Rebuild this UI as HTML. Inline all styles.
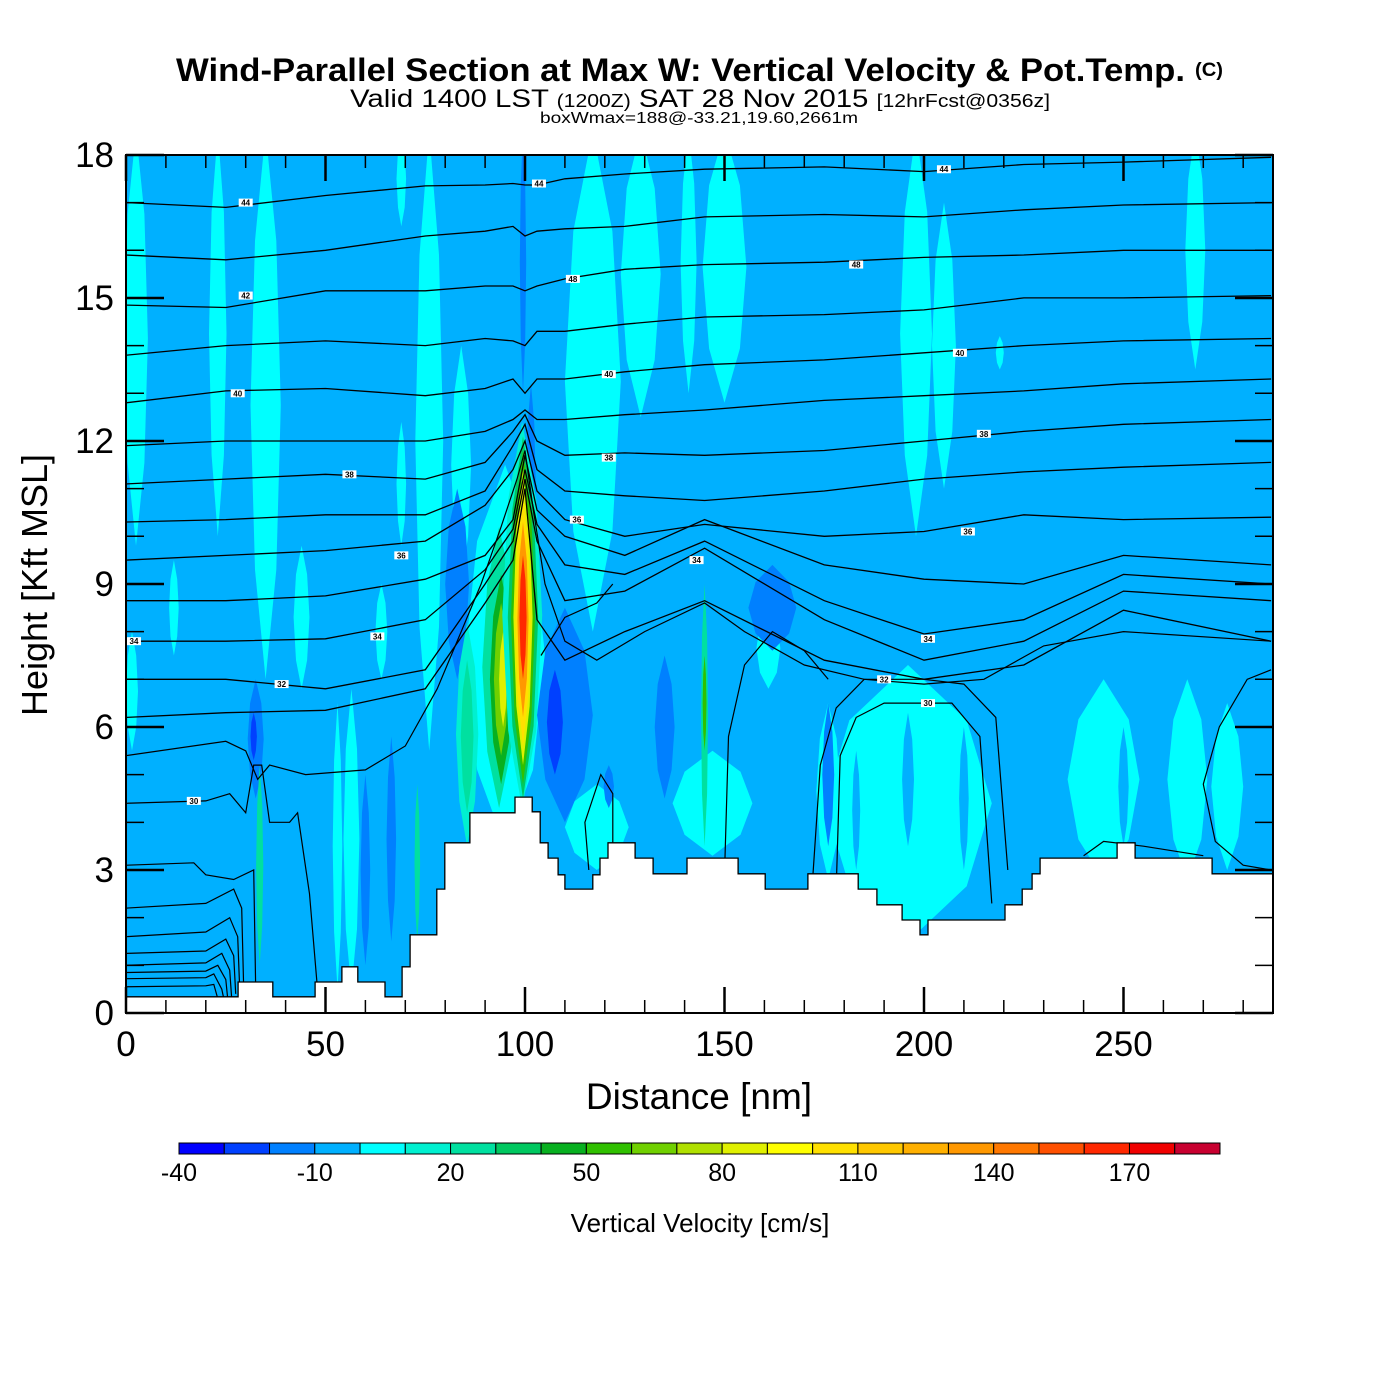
<!DOCTYPE html>
<html><head><meta charset="utf-8"><style>
html,body{margin:0;padding:0;background:#fff;width:1400px;height:1400px;overflow:hidden}
svg text{font-family:"Liberation Sans",Arial,sans-serif}
</style></head><body>
<svg id="chart" width="1400" height="1400" viewBox="0 0 1400 1400" xmlns="http://www.w3.org/2000/svg">
<defs><clipPath id="plotclip"><rect x="126" y="155" width="1147" height="858"/></clipPath></defs>
<text x="176" y="81" font-size="32" font-weight="bold" textLength="1009" lengthAdjust="spacingAndGlyphs">Wind-Parallel Section at Max W: Vertical Velocity &amp; Pot.Temp.</text>
<text x="1195" y="76" font-size="19" font-weight="bold" textLength="28" lengthAdjust="spacingAndGlyphs">(C)</text>
<text x="350" y="107" font-size="25" textLength="700" lengthAdjust="spacingAndGlyphs">Valid 1400 LST <tspan font-size="18">(1200Z)</tspan> SAT 28 Nov 2015 <tspan font-size="18">[12hrFcst@0356z]</tspan></text>
<text x="540" y="123" font-size="16" textLength="318" lengthAdjust="spacingAndGlyphs">boxWmax=188@-33.21,19.60,2661m</text>
<g id="plot" clip-path="url(#plotclip)"></g>
<g id="axes"></g>
<g id="cbar"></g>
<text x="699" y="1109" font-size="37" text-anchor="middle">Distance [nm]</text>
<text x="0" y="0" font-size="36" text-anchor="middle" transform="translate(47,585) rotate(-90)">Height [Kft MSL]</text>
<text x="700" y="1232" font-size="26" text-anchor="middle">Vertical Velocity [cm/s]</text>
</svg>
<script>
const levelColors=['#0000ff','#0040ff','#0080ff','#00b0ff','#00ffff','#00f0d0','#00e0a0','#00c860','#08b020','#30c000','#70d000','#b0e000','#e0f000','#ffff00','#ffe000','#ffc800','#ffb000','#ff9800','#ff7800','#ff5000','#ff2800','#f00000','#c80030'];
const cbarTicks=[-40,-10,20,50,80,110,140,170];
const xTicks=[0,50,100,150,200,250];
const yTicks=[0,3,6,9,12,15,18];
// w features: [centerNm, lowKft, highKft, halfWidthNm, levelIndex]
const wCells=[
[2.5,9.8,18.5,3,4],[1.5,5.5,8.0,1.5,4],[12,7.5,9.5,1.2,4],[23,10,18.5,2.2,4],[35,7,18.5,3.8,4],[44,6.8,9.8,2,4],
[53,0.5,6.5,1.2,4],[56.5,0.5,6.8,2,4],[64,7,9,1.5,4],[69,16.5,18.5,1.2,4],[69,9.8,12.4,1.2,4],[76,5.5,18.5,3.5,4],
[84,9,14,2.5,4],[117,8,18.5,7,4],[129,12.5,18.5,5,4],[141,13,18.5,2,4],[150,12.8,18.5,5.5,4],[161,6.8,8.5,3,4],
[196,1.5,7.3,21,4],[198,10,18.5,4,4],[205,11,17,3,4],[176,2.8,6.5,3,4],[219,13.5,14.2,1,4],[245,2.8,7,9,4],[266,2.8,7,5,4],
[276,3,6.5,4,4],[268,13.5,18.5,2.5,4],[147,3.3,5.5,10,4],[118,3.0,4.8,8,4],[95,3.5,11.5,10,4],
[196,3.5,6.3,1.5,3],[210,3,6,1.2,3],[183,3,5.5,1,3],[250,3.5,6,1.3,3],
[110,4.0,8.5,7,2],[107.5,5.0,7.2,2,1],[32.5,4.5,7.0,2,2],[32,5.3,6.3,0.8,1],[162,7.6,9.4,6,2],[135,4.5,7.5,2.5,2],
[176,3.5,6.5,1.5,2],[66.5,1.5,5.8,1.2,2],[60,1,5,1.2,2],[83,7,11,3,2],[101.5,9,13.2,1.2,2],[99.5,13,18.5,0.8,2],[121,4.3,5.2,1.3,2],
[33.5,1.0,5.2,0.9,6],[145,3.5,9,0.9,6],[145,5.5,7.5,0.5,9],[73,1.5,4.8,0.7,6],[85.5,3.5,8.2,2.8,5],[85.5,4.2,7.4,1.6,6],
[93.5,4.3,10.2,4.2,6],[94,4.8,9.2,2.8,8],[94,5.4,8.6,1.8,10],[94.5,6.0,8.0,1.0,12],
[99.3,4.3,12.4,5,5],[99.5,4.5,12.1,3.8,7],[99.5,4.8,11.8,3.0,9],[99.5,5.2,11.4,2.4,12],[99.5,5.6,10.9,1.9,14],
[99.5,6.2,10.3,1.4,17],[99.5,7.0,9.6,0.9,20]];
const terrainEdges=[0,28.1,36.8,47.4,54.1,58.1,64.9,69.2,71.2,77.9,79.9,86.2,97.5,101.8,103.8,105.8,108.3,110,117.0,118.8,120.8,127.6,132.1,140.6,153.4,160.2,170.9,183.5,188.2,194.5,199,201,220.3,224.6,227.1,229.1,248.4,252.9,272.2,288];
const terrainHeights=[0.34,0.65,0.34,0.65,0.97,0.65,0.34,0.97,1.64,2.6,3.57,4.2,4.53,4.22,3.57,3.25,2.9,2.6,2.9,3.25,3.57,3.25,2.92,3.25,2.92,2.6,2.92,2.6,2.27,1.95,1.64,1.95,2.27,2.6,2.92,3.25,3.57,3.25,2.92];
const contourX=[0,25,50,75,90,97,100,103,110,125,145,175,200,225,250,287];
const theta1=[17.0,16.9,17.15,17.35,17.37,17.4,17.37,17.37,17.5,17.6,17.7,17.75,17.65,17.8,17.85,17.95];
const theta2=[15.9,15.8,16.0,16.3,16.4,16.5,16.3,16.4,16.45,16.5,16.7,16.75,16.7,16.85,16.95,17.0];
const theta3=[14.85,14.8,15.15,15.15,15.25,15.25,15.15,15.25,15.4,15.6,15.7,15.75,15.85,15.9,16.0,16.0];
const theta4=[13.8,14.0,14.1,14.0,14.15,14.1,14.0,14.3,14.3,14.45,14.6,14.65,14.75,15.0,15.0,15.05];
const theta5=[12.8,13.05,13.1,12.95,13.1,13.3,13.0,13.3,13.3,13.45,13.6,13.7,13.85,14.0,14.1,14.15];
const theta6=[11.9,12.0,12.0,12.0,12.2,12.45,12.65,12.45,12.45,12.55,12.65,12.85,12.95,13.05,13.2,13.3];
const theta7=[11.1,11.2,11.3,11.2,11.55,12.2,12.55,12.0,11.7,11.75,11.7,11.8,12.0,12.2,12.35,12.45];
const theta8=[10.3,10.35,10.45,10.45,10.95,11.9,12.35,11.4,10.95,10.85,10.75,10.95,11.2,11.35,11.45,11.55];
const theta9=[9.5,9.6,9.7,9.9,10.65,11.4,12.0,10.95,10.35,10.0,10.25,10.0,10.1,10.45,10.35,10.4];
const theta10=[8.65,8.65,8.75,9.1,9.6,10.35,11.7,10.55,10.0,9.6,10.35,9.4,9.1,9.0,9.6,9.4];
const theta11=[7.8,7.8,7.85,8.25,9.3,10.15,11.4,10.25,9.4,9.2,9.9,8.65,7.95,8.25,9.2,9.0];
const theta12=[7.0,7.0,6.8,7.2,9.0,9.9,11.2,9.9,8.65,8.85,9.75,8.25,7.4,7.8,8.85,8.65];
const theta13=[6.2,6.3,6.35,6.8,8.6,9.5,11.0,8.25,7.4,8.0,8.65,7.4,7.0,7.3,8.45,7.8];
const thetaLow=[
[[0,5.4],[25,5.7],[30,5.5],[33,4.9],[36,5.2],[45,5.0],[60,5.1],[70,5.6],[78,6.8],[84,8.0],[89,9.0],[94,10.2],[98,11.2],[100,11.8],[102,10.6],[105,9.0],[110,7.8],[118,7.4],[130,8.0],[145,8.6],[155,8.0],[170,7.3],[185,7.0],[200,6.9],[215,7.0],[230,7.7],[250,8.0],[287,7.8]],
[[0,4.4],[20,4.45],[26,4.6],[30,4.2],[32,5.2],[34,5.2],[36,4.0],[41,4.0],[43,4.2],[46,2.5],[48,0.5]],
[[0,3.1],[17,3.15],[20,2.9],[27,2.8],[32,3.0],[32.5,0.5]],
[[0,2.2],[20,2.3],[27,2.6],[29,2.2],[29.5,0.5]],
[[0,1.6],[20,1.7],[26,2.0],[28,1.6],[28.5,0.5]],
[[0,1.25],[20,1.3],[25,1.55],[27,1.2],[27.5,0.4]],
[[0,1.0],[20,1.05],[24,1.25],[26,0.9],[26.5,0.3]],
[[0,0.85],[20,0.88],[23,1.0],[25,0.7],[25.5,0.3]],
[[0,0.72],[20,0.74],[22,0.82],[24,0.5],[24.5,0.3]],
[[0,0.55],[20,0.57],[22,0.6],[23,0.3]],
[[172,2.7],[174,5.2],[178,6.4],[185,7.0],[200,7.0],[210,6.9],[218,6.2],[221,3.0]],
[[178,2.6],[179,5.4],[183,6.2],[190,6.5],[207,6.5],[214,5.8],[217,2.3]],
[[150,2.9],[151,5.8],[155,7.3],[162,8.0],[170,7.6],[176,7.0]],
[[287,7.2],[281,7.0],[274,6.0],[270,4.8],[273,3.6],[280,3.1],[287,3.0]],
[[116,3.0],[115,4.0],[119,5.0],[122,4.6],[122,3.4]],
[[104,7.5],[110,8.3],[118,8.6],[122,9.0]],
[[240,3.3],[245,3.6],[255,3.5],[270,3.3]]];
const contourLabels=[[30,17.0,'44'],[103.5,17.4,'44'],[205,17.7,'44'],[112,15.4,'48'],[183,15.7,'48'],[30,15.05,'42'],[28,13.0,'40'],[121,13.4,'40'],[209,13.85,'40'],[56,11.3,'38'],[121,11.65,'38'],[215,12.15,'38'],[69,9.6,'36'],[113,10.35,'36'],[211,10.1,'36'],[2,7.8,'34'],[63,7.9,'34'],[143,9.5,'34'],[201,7.85,'34'],[39,6.9,'32'],[190,7.0,'32'],[17,4.45,'30'],[201,6.5,'30']];

const NS='http://www.w3.org/2000/svg';
const X=nm=>126+nm*3.99;
const Y=k=>1013-k*47.67;
function mk(tag,attrs,parent){const e=document.createElementNS(NS,tag);for(const k in attrs)e.setAttribute(k,attrs[k]);parent.appendChild(e);return e;}
const plot=document.getElementById('plot');
const bg=mk('rect',{x:126,y:155,width:1147,height:858,fill:levelColors[3]},plot);


wCells.forEach(c=>{
  const cx=X(c[0]),top=Y(c[2]),bot=Y(c[1]),hw=c[3]*3.99,cy=(top+bot)/2;
  const pts=[[cx,top],[cx+hw*0.7,top+(bot-top)*0.2],[cx+hw,cy],[cx+hw*0.7,bot-(bot-top)*0.2],[cx,bot],[cx-hw*0.7,bot-(bot-top)*0.2],[cx-hw,cy],[cx-hw*0.7,top+(bot-top)*0.2]];
  const p=mk('polygon',{points:pts.map(q=>q[0].toFixed(1)+','+q[1].toFixed(1)).join(' '),fill:levelColors[c[4]]},plot);
  
  
});
const thetaGrid=[theta1,theta2,theta3,theta4,theta5,theta6,theta7,theta8,theta9,theta10,theta11,theta12,theta13];
thetaGrid.forEach(arr=>{
  const l=mk('polyline',{points:arr.map((k,i)=>X(contourX[i]).toFixed(1)+','+Y(k).toFixed(1)).join(' '),fill:'none',stroke:'#000','stroke-width':1.3},plot);
  
  
});
thetaLow.forEach(arr=>{
  const l=mk('polyline',{points:arr.map(q=>X(q[0]).toFixed(1)+','+Y(q[1]).toFixed(1)).join(' '),fill:'none',stroke:'#000','stroke-width':1.2},plot);
  
  
});
contourLabels.forEach(c=>{
  const x=X(c[0]),y=Y(c[1]);
  const g=mk('g',{},plot);
  
  
  mk('rect',{x:x-7,y:y-4,width:14,height:8,fill:'#fff'},g);
  const t=mk('text',{x:x,y:y+3,'font-size':8,'text-anchor':'middle','font-weight':'bold'},g);
  t.textContent=c[2];
});
let tp='';
terrainHeights.forEach((h,i)=>{tp+=(i===0?'M':'L')+X(terrainEdges[i]).toFixed(1)+','+Y(h).toFixed(1)+' L'+X(terrainEdges[i+1]).toFixed(1)+','+Y(h).toFixed(1)+' ';});
tp+='L1273,1013 L126,1013 Z';
const terr=mk('path',{d:tp,fill:'#fff',stroke:'#000','stroke-width':1.3},plot);



const axes=document.getElementById('axes');
const frame=mk('rect',{x:126,y:155,width:1147,height:858,fill:'none',stroke:'#000','stroke-width':2},axes);


for(let v=0;v<=280;v+=10){
  const major=v%50===0, len=major?26:13, x=X(v);
  mk('line',{x1:x,y1:1013,x2:x,y2:1013-len,stroke:'#000','stroke-width':major?2.5:1.5},axes);
  mk('line',{x1:x,y1:155,x2:x,y2:155+len,stroke:'#000','stroke-width':major?2.5:1.5},axes);
}
xTicks.forEach(v=>{const t=mk('text',{x:X(v),y:1056,'font-size':35,'text-anchor':'middle'},axes);
  
  
  t.textContent=v;});
for(let k=0;k<=18;k++){
  const major=k%3===0,len=major?38:18,y=Y(k);
  mk('line',{x1:126,y1:y,x2:126+len,y2:y,stroke:'#000','stroke-width':major?2.5:1.5},axes);
  mk('line',{x1:1273,y1:y,x2:1273-len,y2:y,stroke:'#000','stroke-width':major?2.5:1.5},axes);
}
yTicks.forEach(v=>{const t=mk('text',{x:114,y:Y(v)+12,'font-size':35,'text-anchor':'end'},axes);
  
  
  t.textContent=v;});

const cbar=document.getElementById('cbar');
const cw=(1220-179)/levelColors.length;
levelColors.forEach((c,i)=>{const r=mk('rect',{x:179+i*cw,y:1143,width:cw,height:11,fill:c,stroke:'#000','stroke-width':1},cbar);
  
  });
cbarTicks.forEach(v=>{const t=mk('text',{x:179+(v+40)/10*cw,y:1181,'font-size':25,'text-anchor':'middle'},cbar);
  
  
  t.textContent=v;});
</script>
</body></html>
